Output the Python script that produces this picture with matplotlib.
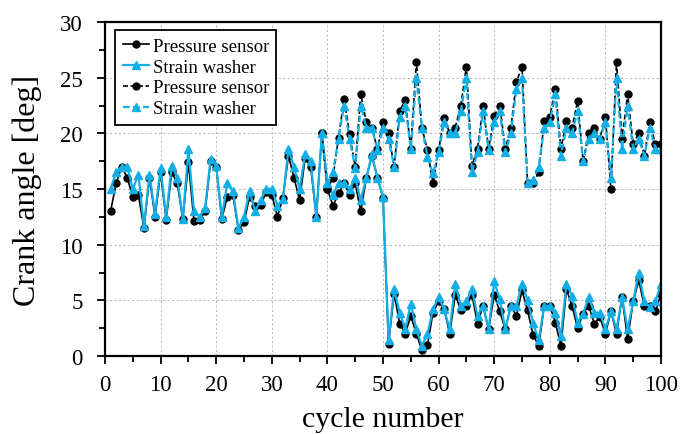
import numpy as np
import matplotlib.pyplot as plt
from matplotlib.ticker import MultipleLocator

plt.rcParams['font.family'] = ['Liberation Serif', 'DejaVu Serif']

cycles = np.arange(1, 101)

# solid: cycles 1-100 (drops to the lower branch after cycle 50)
ps_solid = [13.0, 15.5, 17.0, 16.0, 14.3, 14.5, 11.5, 16.0, 12.5, 16.5,
            12.2, 16.5, 15.5, 12.3, 17.4, 12.1, 12.2, 13.0, 17.5, 17.0,
            12.3, 14.3, 14.5, 11.3, 12.0, 14.3, 13.5, 13.6, 14.7, 14.5,
            12.5, 14.2, 18.0, 16.0, 14.0, 17.8, 17.0, 12.5, 20.0, 15.0,
            13.5, 14.6, 15.5, 14.5, 15.5, 13.0, 16.0, 18.0, 16.0, 14.2,
            1.1, 5.6, 2.9, 2.0, 3.6, 2.0, 0.5, 1.0, 3.9, 4.9,
            4.2, 2.0, 5.5, 4.1, 4.5, 5.5, 2.9, 4.5, 2.4, 5.5,
            4.0, 2.4, 4.5, 3.6, 5.9, 4.1, 1.9, 0.9, 4.5, 4.5,
            3.0, 0.9, 6.0, 4.5, 2.5, 3.8, 4.5, 2.9, 3.5, 2.0,
            4.0, 2.0, 5.3, 1.5, 4.9, 6.8, 4.5, 4.5, 4.0, 5.6]
sw_solid = [15.0, 16.5, 17.0, 17.0, 15.0, 16.3, 11.7, 16.3, 12.8, 16.9,
            12.5, 17.1, 16.0, 12.3, 18.6, 13.0, 12.5, 13.3, 17.7, 17.1,
            12.5, 15.5, 14.8, 11.5, 12.5, 14.8, 13.0, 14.0, 15.0, 15.0,
            13.5, 14.1, 18.6, 17.0, 15.0, 18.1, 17.5, 12.5, 20.0, 15.5,
            14.5, 15.5, 15.5, 15.0, 16.0, 14.0, 16.0, 18.1, 16.0, 14.3,
            1.4, 6.0, 3.9, 2.4, 4.7, 2.4, 0.9, 2.0, 4.2, 5.3,
            4.2, 2.4, 6.5, 4.5, 4.9, 6.0, 3.6, 4.5, 2.4, 6.7,
            5.1, 2.4, 4.5, 4.5, 6.5, 5.0, 3.0, 1.4, 4.5, 4.5,
            3.9, 1.8, 6.5, 5.4, 3.0, 3.8, 5.3, 3.9, 3.9, 2.4,
            4.0, 2.4, 5.3, 2.4, 4.9, 7.5, 4.9, 4.4, 4.9, 6.5]

# dashed: upper branch, cycles 39-100
cyc_dash = np.arange(39, 101)
ps_dash = [20.0, 15.0, 16.0, 19.6, 23.1, 19.9, 17.0, 23.5, 21.0, 20.5, 18.6, 21.0,
           20.0, 17.0, 22.0, 23.0, 18.6, 26.4, 20.5, 18.5, 15.5, 18.5,
           21.4, 20.0, 20.5, 22.5, 26.0, 17.1, 18.6, 22.5, 18.6, 21.6,
           22.5, 18.6, 20.5, 24.6, 26.0, 15.5, 15.5, 16.5, 21.1, 21.5,
           24.0, 18.6, 21.1, 20.5, 22.9, 17.5, 20.0, 20.5, 19.5, 21.5,
           15.0, 26.4, 19.5, 23.5, 19.0, 20.0, 18.0, 21.0, 19.0, 19.0]
sw_dash = [20.0, 15.5, 16.5, 19.5, 22.5, 19.5, 16.9, 22.5, 20.5, 20.5, 18.5, 20.5,
           19.5, 17.0, 21.5, 22.5, 18.6, 25.0, 20.5, 17.9, 16.4, 18.3,
           21.0, 20.0, 20.0, 22.0, 25.0, 16.5, 18.3, 22.0, 18.5, 21.0,
           22.0, 18.3, 20.0, 24.0, 25.0, 15.5, 15.8, 17.0, 20.5, 21.0,
           23.5, 18.0, 20.5, 20.0, 22.0, 17.5, 19.5, 20.0, 19.5, 21.0,
           16.0, 25.0, 18.6, 22.5, 18.6, 19.5, 18.0, 20.5, 18.6, 18.6]

blue = '#12aee6'

fig = plt.figure(figsize=(6.81, 4.35), dpi=100)
ax = fig.add_axes([0.1542, 0.1793, 0.8164, 0.7678])

ax.plot(cycles, ps_solid, '-', color='black', lw=1.2, marker='o', ms=5,
        label='Pressure sensor')
ax.plot(cycles, sw_solid, '-', color=blue, lw=1.6, marker='^', ms=6,
        label='Strain washer')
ax.plot(cyc_dash, ps_dash, '--', color='black', lw=1.2, marker='o', ms=5,
        dashes=(3, 1.5), label='Pressure sensor')
ax.plot(cyc_dash, sw_dash, '--', color=blue, lw=1.6, marker='^', ms=6,
        dashes=(3, 1.5), label='Strain washer')

ax.set_xlim(0, 100)
ax.set_ylim(0, 30)
ax.xaxis.set_major_locator(MultipleLocator(10))
ax.xaxis.set_minor_locator(MultipleLocator(5))
ax.yaxis.set_major_locator(MultipleLocator(5))
ax.yaxis.set_minor_locator(MultipleLocator(2.5))
ax.tick_params(which='both', direction='out', width=1.3, labelsize=16.5,
               colors='black')
ax.tick_params(which='major', length=6)
ax.tick_params(which='minor', length=4)
ax.tick_params(axis='x', which='major', pad=7)
ax.tick_params(axis='y', which='major', pad=10)
for s in ax.spines.values():
    s.set_linewidth(1.6)

ax.grid(True, which='major', color='#bdbdbd', linestyle=(0, (2, 2)), lw=0.8)
ax.set_axisbelow(True)

ax.set_xlabel('cycle number', fontsize=21.5)
ax.set_ylabel('Crank angle [deg]', fontsize=23)
ax.xaxis.set_label_coords(0.5, -0.15)
ax.yaxis.set_label_coords(-0.113, 0.5)

leg = ax.legend(loc='upper left', bbox_to_anchor=(0.018, 0.976),
                borderaxespad=0, fontsize=13.5, frameon=True, fancybox=False,
                edgecolor='black', framealpha=1, handlelength=1.4,
                handletextpad=0.2, labelspacing=0.2, borderpad=0.4)
leg.get_frame().set_linewidth(1.3)

fig.savefig('out.png', dpi=100)
